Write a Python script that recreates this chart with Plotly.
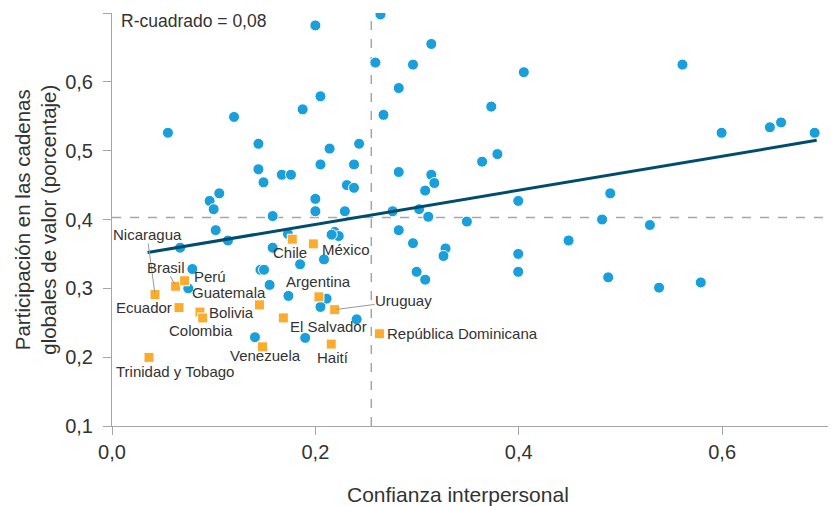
import plotly.graph_objects as go

# ---- data ----
blue_x = [0.055, 0.120, 0.144, 0.144, 0.149, 0.167, 0.176, 0.1875, 0.200, 0.205,
          0.214, 0.205, 0.243, 0.238, 0.231, 0.238, 0.096, 0.1055, 0.100, 0.200,
          0.200, 0.229, 0.158, 0.259, 0.264,
          0.314, 0.296, 0.282, 0.267, 0.405, 0.373, 0.364, 0.379, 0.282, 0.314,
          0.317, 0.308, 0.3995, 0.276, 0.302, 0.311, 0.349, 0.490, 0.482,
          0.561, 0.5995, 0.647, 0.658, 0.691,
          0.102, 0.114, 0.067, 0.079, 0.075, 0.146, 0.1495, 0.155, 0.158, 0.185,
          0.1735, 0.2085, 0.219, 0.223, 0.216, 0.211, 0.205, 0.2406, 0.190, 0.1406,
          0.173,
          0.282, 0.296, 0.328, 0.326, 0.2996, 0.308, 0.3995, 0.3995, 0.449, 0.488,
          0.529, 0.538, 0.579]
blue_y = [0.526, 0.549, 0.510, 0.473, 0.454, 0.465, 0.465, 0.560, 0.682, 0.579,
          0.503, 0.480, 0.510, 0.480, 0.450, 0.446, 0.427, 0.438, 0.415, 0.430,
          0.412, 0.412, 0.405, 0.628, 0.698,
          0.655, 0.625, 0.591, 0.552, 0.614, 0.564, 0.484, 0.495, 0.469, 0.465,
          0.453, 0.442, 0.427, 0.412, 0.415, 0.404, 0.397, 0.438, 0.400,
          0.625, 0.526, 0.534, 0.541, 0.526,
          0.3845, 0.3695, 0.359, 0.328, 0.300, 0.327, 0.327, 0.305, 0.359, 0.335,
          0.289, 0.342, 0.382, 0.376, 0.378, 0.285, 0.273, 0.255, 0.228, 0.229,
          0.379,
          0.3845, 0.3656, 0.358, 0.347, 0.324, 0.3126, 0.350, 0.324, 0.3695, 0.316,
          0.392, 0.301, 0.3085]

countries = ["Nicaragua", "Brasil", "Perú", "Ecuador", "Bolivia", "Colombia",
             "Trinidad y Tobago", "Guatemala", "El Salvador", "Venezuela", "Chile",
             "México", "Argentina", "Uruguay", "Haití", "República Dominicana"]
lac_x = [0.0423, 0.0626, 0.0714, 0.0659, 0.0865, 0.0892, 0.0364, 0.145, 0.1685,
         0.148, 0.1773, 0.198, 0.2035, 0.219, 0.2156, 0.263]
lac_y = [0.291, 0.303, 0.311, 0.272, 0.2655, 0.257, 0.1997, 0.276, 0.257,
         0.215, 0.3714, 0.3646, 0.2877, 0.269, 0.219, 0.234]

trend_x = [0.035, 0.693]
trend_y = [0.352, 0.515]
mean_x = 0.255
mean_y = 0.403
r2_text = "R-cuadrado = 0,08"

x_ticks = [0.0, 0.2, 0.4, 0.6]
y_ticks = [0.1, 0.2, 0.3, 0.4, 0.5, 0.6, 0.7]

# ---- style ----
FONT = "Liberation Sans, Arial, sans-serif"
TXT = "#333333"
BLUE = "#1a9fdb"
ORANGE = "#fbab2e"
LINE = "#004c6d"
GRID = "#a6a6a6"

fig = go.Figure()

fig.add_trace(go.Scatter(x=blue_x, y=blue_y, mode="markers",
                         marker=dict(color=BLUE, size=11, line=dict(color="white", width=1)),
                         hoverinfo="x+y", showlegend=False))
fig.add_trace(go.Scatter(x=trend_x, y=trend_y, mode="lines",
                         line=dict(color=LINE, width=3), showlegend=False))
fig.add_trace(go.Scatter(x=lac_x, y=lac_y, mode="markers", text=countries,
                         marker=dict(color=ORANGE, symbol="square", size=10,
                                     line=dict(color="white", width=1)),
                         showlegend=False))

fig.add_shape(type="line", xref="x", yref="paper", x0=mean_x, x1=mean_x, y0=0, y1=1,
              line=dict(color=GRID, width=1.5, dash="dash"), layer="below")
fig.add_shape(type="line", xref="paper", yref="y", x0=0, x1=1, y0=mean_y, y1=mean_y,
              line=dict(color=GRID, width=1.5, dash="dash"), layer="below")

# label placement (pixel offsets): name -> (xanchor, xshift, yshift)
label_pos = {
    "Perú": ("left", 8, 4),
    "Guatemala": ("right", 8, 12),
    "Ecuador": ("right", -6, 0),
    "Bolivia": ("left", 8, 0),
    "Colombia": ("center", -2, -13),
    "Trinidad y Tobago": ("left", -34, -14),
    "Venezuela": ("center", 3, -9),
    "Chile": ("center", -2, -13),
    "México": ("left", 8, -6),
    "Argentina": ("center", 0, 15),
    "El Salvador": ("left", 6, -9),
    "Haití": ("center", 2, -13),
    "República Dominicana": ("left", 7, 0),
}
arrow_pos = {
    "Nicaragua": (-8, -60),
    "Brasil": (-10, -19),
    "Uruguay": (69, -9),
}
for name, cx, cy in zip(countries, lac_x, lac_y):
    if name in label_pos:
        xa, xs, ys = label_pos[name]
        fig.add_annotation(x=cx, y=cy, text=name, showarrow=False, xanchor=xa,
                           yanchor="middle", xshift=xs, yshift=ys, borderpad=0,
                           font=dict(family=FONT, size=15, color=TXT))
    else:
        ax, ay = arrow_pos[name]
        fig.add_annotation(x=cx, y=cy, text=name, showarrow=True, ax=ax, ay=ay,
                           arrowhead=0, arrowwidth=1, arrowcolor="#999999",
                           standoff=2, borderpad=0,
                           font=dict(family=FONT, size=15, color=TXT))

fig.add_annotation(xref="paper", yref="paper", x=0.0097, y=0.981, xanchor="left",
                   yanchor="middle", text=r2_text, showarrow=False,
                   font=dict(family=FONT, size=17.5, color=TXT))
fig.add_annotation(xref="paper", yref="paper", x=-0.106, y=0.5, textangle=-90,
                   text="Participación en las cadenas<br>globales de valor (porcentaje)",
                   showarrow=False, xanchor="center", yanchor="middle",
                   font=dict(family=FONT, size=20.5, color=TXT))
fig.add_annotation(xref="paper", yref="paper", x=0.478, y=-0.165,
                   text="Confianza interpersonal", showarrow=False,
                   xanchor="center", yanchor="middle",
                   font=dict(family=FONT, size=21, color=TXT))

fig.update_xaxes(range=[0, 0.712], tickvals=x_ticks, tickformat=".1f",
                 showgrid=False, zeroline=False, showline=True, linecolor=GRID,
                 linewidth=1, ticks="outside", ticklen=8, tickcolor=GRID,
                 tickfont=dict(family=FONT, size=20, color=TXT))
fig.update_yaxes(range=[0.1, 0.7], tickvals=y_ticks, tickformat=".1f",
                 showgrid=False, zeroline=False, showline=True, linecolor=GRID,
                 linewidth=1, ticks="outside", ticklen=8, tickcolor=GRID,
                 ticklabelstandoff=6,
                 tickfont=dict(family=FONT, size=20, color=TXT))

# page body adds an 8px offset; figure sized so the plot area lands like the reference
fig.update_layout(width=828, height=498, separators=",.",
                  margin=dict(l=104, r=0, t=5, b=80),
                  paper_bgcolor="white", plot_bgcolor="white",
                  font=dict(family=FONT, color=TXT))

fig.write_html("out.html")
